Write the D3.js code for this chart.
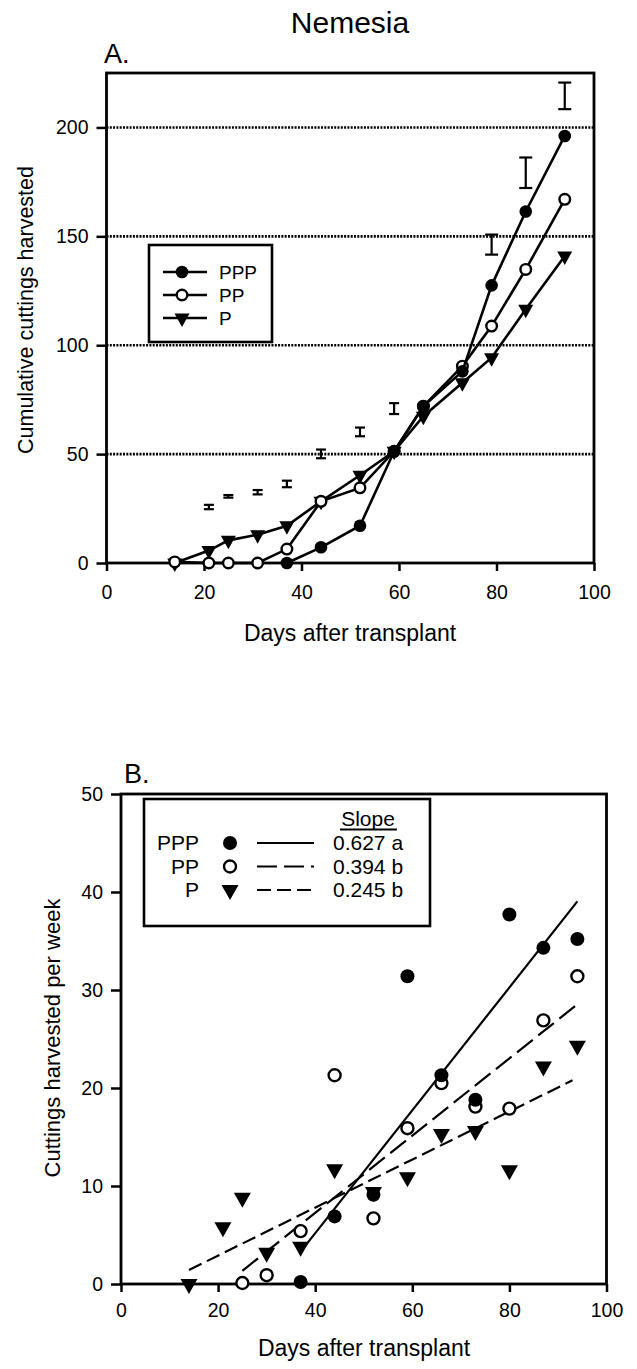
<!DOCTYPE html>
<html>
<head>
<meta charset="utf-8">
<script src="https://cdn.jsdelivr.net/npm/d3@7"></script>
<style>
	body { margin: 0; background: #fff; }
	svg { display: block; font-family: "Liberation Sans", Arial, sans-serif; }
	.tick text { font-size: 19.5px; fill: #000; }
</style>
</head>
<body>
<svg id="chart" width="637" height="1369"></svg>
<script>
// ---- panel A: cumulative cuttings ----
const daysA = [14, 21, 25, 31, 37, 44, 52, 59, 65, 73, 79, 86, 94];
const cumPPP = [null, null, null, null, 0, 7.2, 17.1, 51.3, 72, 88, 127.5, 161.4, 196.1];
const cumPP = [0.5, 0, 0, 0, 6.4, 28.3, 34.5, 51.3, 72, 90.4, 108.8, 134.8, 167];
const cumP = [0, 5.7, 10.4, 13, 17.1, 28.3, 40.3, 51.3, 67.4, 82.8, 94.3, 116.5, 141];

// error bars (centre, half length)
const errDays = [21, 25, 31, 37, 44, 52, 59, 79, 86, 94];
const errMid = [25.7, 30.6, 32.5, 36.3, 50.1, 60.2, 70.9, 146.2, 179.2, 214.5];
const errHalf = [1, 0.6, 1, 1.5, 2, 2, 2.5, 4.6, 7, 6.1];

const ticksAx = [0, 20, 40, 60, 80, 100];
const ticksAy = [0, 50, 100, 150, 200];
const gridA = [50, 100, 150, 200];

// ---- panel B: weekly cuttings ----
const daysB = [14, 21, 25, 30, 37, 44, 52, 59, 66, 73, 80, 87, 94];
const weekPPP = [null, null, null, null, 0.2, 6.9, 9.1, 31.4, 21.3, 18.8, 37.7, 34.3, 35.2];
const weekPP = [null, null, 0.1, 0.9, 5.4, 21.3, 6.7, 15.9, 20.5, 18.1, 17.9, 26.9, 31.4];
const weekP = [0, 5.8, 8.8, 3.2, 3.8, 11.7, 9.4, 10.9, 15.3, 15.6, 11.6, 22.2, 24.3];

// fitted lines
const fitSlope = [0.627, 0.394, 0.245];
const fitIntercept = [-19.9, -8.5, -2.0];
const fitFrom = [37, 25, 14];
const fitTo = [94, 94, 93];
const slopeText = ["0.627 a", "0.394 b", "0.245 b"];

const seriesNames = ["PPP", "PP", "P"];
const ticksBx = [0, 20, 40, 60, 80, 100];
const ticksBy = [0, 10, 20, 30, 40, 50];

const svg = d3.select("#chart");

const xA = d3.scaleLinear([0, 100], [106.5, 594]);
const yA = d3.scaleLinear([0, 225], [563, 73]);
const xB = d3.scaleLinear([0, 100], [121, 606.5]);
const yB = d3.scaleLinear([0, 50], [1284, 794]);

// marker drawing: 0 filled circle, 1 open circle, 2 down triangle
function marker(g, kind, x, y, big) {
	const r = big ? 7 : 6.3;
	if (kind === 0) {
		g.append("circle").attr("cx", x).attr("cy", y).attr("r", r).attr("fill", "#000");
	} else if (kind === 1) {
		g.append("circle").attr("cx", x).attr("cy", y).attr("r", r - 1)
			.attr("fill", "#fff").attr("stroke", "#000").attr("stroke-width", 2.4);
	} else {
		const w = big ? 17 : 15, h = big ? 15 : 13.5;
		g.append("path")
			.attr("d", `M${x - w / 2},${y - h / 3}L${x + w / 2},${y - h / 3}L${x},${y + 2 * h / 3}Z`)
			.attr("fill", "#000");
	}
}

function axes(x, y, xt, yt, xpad) {
	const top = y.range()[1], bottom = y.range()[0];
	const left = x.range()[0], right = x.range()[1];

	svg.append("g")
		.attr("transform", `translate(0,${bottom})`)
		.call(d3.axisBottom(x).tickValues(xt).tickSize(8).tickPadding(xpad))
		.call(g => g.select(".domain").remove())
		.call(g => g.selectAll(".tick line").attr("stroke-width", 2.5));

	svg.append("g")
		.attr("transform", `translate(${left},0)`)
		.call(d3.axisLeft(y).tickValues(yt).tickSize(10).tickPadding(8))
		.call(g => g.select(".domain").remove())
		.call(g => g.selectAll(".tick line").attr("stroke-width", 2.5));

	svg.append("rect")
		.attr("x", left).attr("y", top)
		.attr("width", right - left).attr("height", bottom - top)
		.attr("fill", "none").attr("stroke", "#000").attr("stroke-width", 2.8);
}

// ================= Panel A =================
svg.append("text").attr("x", 350).attr("y", 33).attr("text-anchor", "middle")
	.attr("font-size", 30).text("Nemesia");
svg.append("text").attr("x", 104).attr("y", 63).attr("font-size", 27).text("A.");

// dotted grid
svg.append("g").selectAll("line").data(gridA).join("line")
	.attr("x1", xA(0)).attr("x2", xA(100))
	.attr("y1", d => yA(d)).attr("y2", d => yA(d))
	.attr("stroke", "#000").attr("stroke-width", 2.6)
	.attr("stroke-dasharray", "2,1.3");

axes(xA, yA, ticksAx, ticksAy, 14);

svg.append("text")
	.attr("transform", "translate(33,310) rotate(-90)")
	.attr("text-anchor", "middle").attr("font-size", 21.5)
	.text("Cumulative cuttings harvested");
svg.append("text").attr("x", 350).attr("y", 641).attr("text-anchor", "middle")
	.attr("font-size", 23).text("Days after transplant");

// error bars
const eb = svg.append("g").attr("stroke", "#000").attr("stroke-width", 2.2);
errDays.forEach((d, i) => {
	const x = xA(d), y1 = yA(errMid[i] - errHalf[i]), y2 = yA(errMid[i] + errHalf[i]);
	const cw = errHalf[i] > 4 ? 6.5 : 5;
	eb.append("line").attr("x1", x).attr("x2", x).attr("y1", y1).attr("y2", y2);
	eb.append("line").attr("x1", x - cw).attr("x2", x + cw).attr("y1", y1).attr("y2", y1);
	eb.append("line").attr("x1", x - cw).attr("x2", x + cw).attr("y1", y2).attr("y2", y2);
});

const cumSeries = [cumPPP, cumPP, cumP];
const lineA = d3.line()
	.defined(d => d[1] !== null)
	.x(d => xA(d[0])).y(d => yA(d[1]));

// draw P first, then PP, then PPP
[2, 1, 0].forEach(k => {
	const pts = daysA.map((d, i) => [d, cumSeries[k][i]]);
	svg.append("path").attr("d", lineA(pts))
		.attr("fill", "none").attr("stroke", "#000").attr("stroke-width", 2.6);
	const g = svg.append("g");
	pts.filter(p => p[1] !== null).forEach(p => marker(g, k, xA(p[0]), yA(p[1]), false));
});

// legend A
const legA = svg.append("g");
legA.append("rect").attr("x", 149).attr("y", 245).attr("width", 123).attr("height", 97)
	.attr("fill", "#fff").attr("stroke", "#000").attr("stroke-width", 2.6);
seriesNames.forEach((name, k) => {
	const y = 272 + k * 23;
	legA.append("line").attr("x1", 163).attr("x2", 207).attr("y1", y).attr("y2", y)
		.attr("stroke", "#000").attr("stroke-width", 2.6);
	marker(legA, k, 182, y, false);
	legA.append("text").attr("x", 219).attr("y", y + 7).attr("font-size", 19).text(name);
});

// ================= Panel B =================
svg.append("text").attr("x", 124).attr("y", 783).attr("font-size", 27).text("B.");

axes(xB, yB, ticksBx, ticksBy, 11);

svg.append("text")
	.attr("transform", "translate(60,1038) rotate(-90)")
	.attr("text-anchor", "middle").attr("font-size", 22)
	.text("Cuttings harvested per week");
svg.append("text").attr("x", 364).attr("y", 1356).attr("text-anchor", "middle")
	.attr("font-size", 23).text("Days after transplant");

const dashes = [null, "20,7", "14,6"];
const weekSeries = [weekPPP, weekPP, weekP];

// regression lines
fitSlope.forEach((s, k) => {
	svg.append("line")
		.attr("x1", xB(fitFrom[k])).attr("y1", yB(fitIntercept[k] + s * fitFrom[k]))
		.attr("x2", xB(fitTo[k])).attr("y2", yB(fitIntercept[k] + s * fitTo[k]))
		.attr("stroke", "#000").attr("stroke-width", 2.2)
		.attr("stroke-dasharray", dashes[k]);
});

[2, 1, 0].forEach(k => {
	const g = svg.append("g");
	daysB.forEach((d, i) => {
		if (weekSeries[k][i] !== null) marker(g, k, xB(d), yB(weekSeries[k][i]), true);
	});
});

// legend B
const legB = svg.append("g");
legB.append("rect").attr("x", 144).attr("y", 799).attr("width", 286).attr("height", 127)
	.attr("fill", "#fff").attr("stroke", "#000").attr("stroke-width", 2.6);
legB.append("text").attr("x", 368).attr("y", 826).attr("text-anchor", "middle")
	.attr("font-size", 21).text("Slope");
legB.append("line").attr("x1", 340).attr("x2", 397).attr("y1", 829.5).attr("y2", 829.5)
	.attr("stroke", "#000").attr("stroke-width", 1.8);
seriesNames.forEach((name, k) => {
	const base = 850 + k * 23.5;
	const cy = base - 7;
	legB.append("text").attr("x", 199).attr("y", base).attr("text-anchor", "end")
		.attr("font-size", 21).text(name);
	marker(legB, k, 230, cy, true);
	legB.append("line").attr("x1", 257).attr("x2", 314).attr("y1", cy).attr("y2", cy)
		.attr("stroke", "#000").attr("stroke-width", 2.2)
		.attr("stroke-dasharray", dashes[k]);
	legB.append("text").attr("x", 333).attr("y", base).attr("font-size", 21).text(slopeText[k]);
});
</script>
</body>
</html>
